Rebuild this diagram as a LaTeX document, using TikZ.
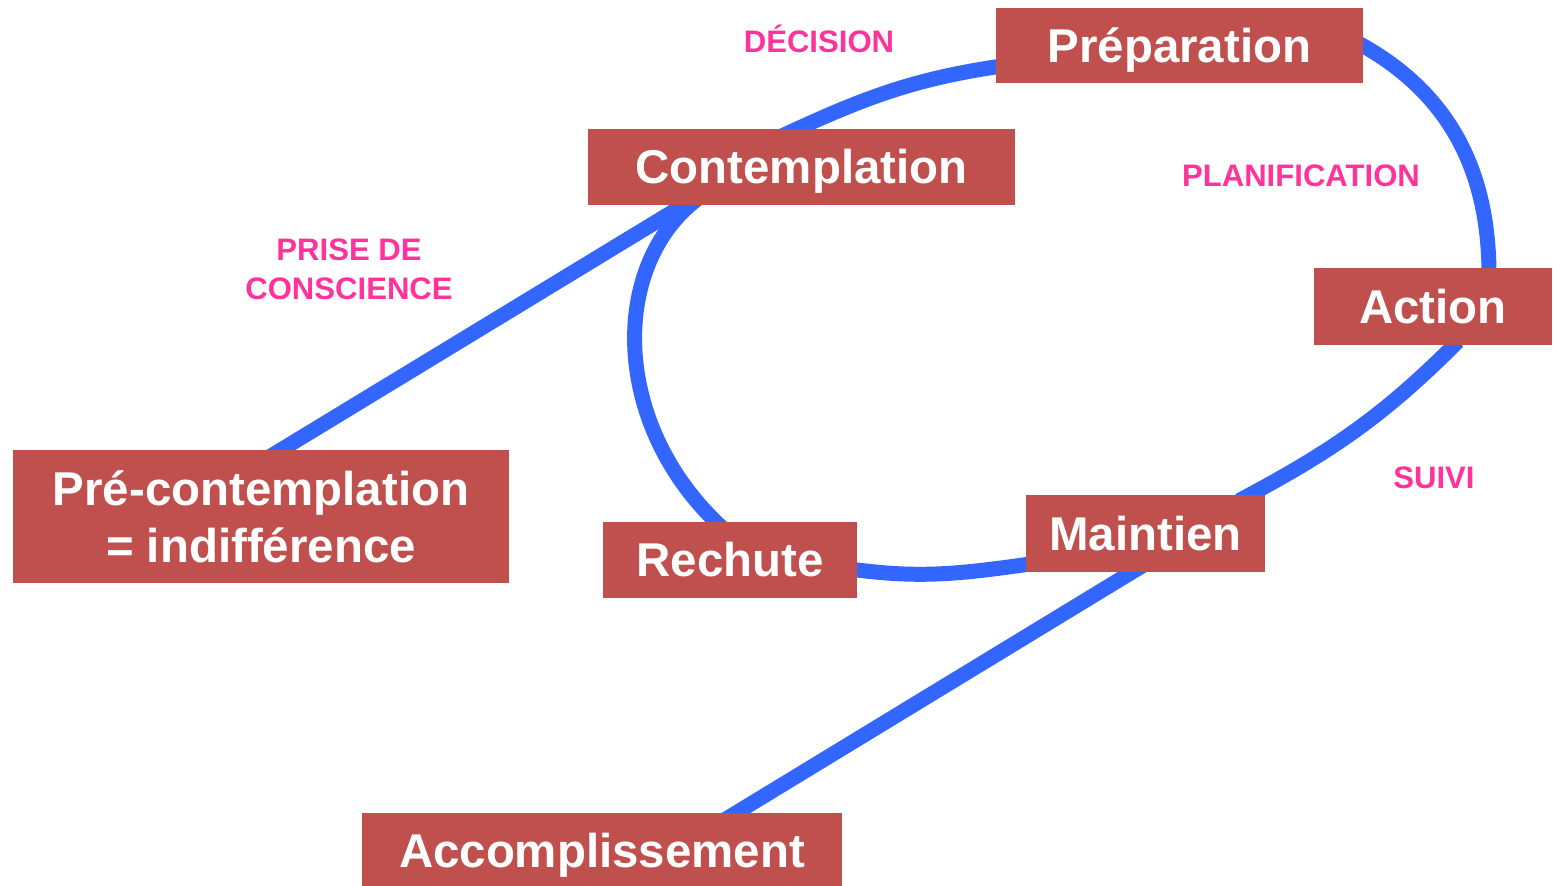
\documentclass[tikz,border=0pt]{standalone}
\usepackage{fontspec}
\setmainfont{Liberation Sans}
\usetikzlibrary{calc,backgrounds}

\definecolor{boxred}{HTML}{C0504D}
\definecolor{linkblue}{HTML}{3366FF}
\definecolor{labelpink}{HTML}{FF3399}

\tikzset{
  stage/.style={fill=boxred, text=white, inner sep=0pt, align=center,
    text height=24pt, text depth=4.7pt,
    font=\bfseries\fontsize{27}{32.3}\selectfont},
  twolines/.style={text height=, text depth=},
  transition/.style={text=labelpink, inner sep=0pt, align=center,
    font=\bfseries\fontsize{17.7}{22}\selectfont},
  link/.style={draw=linkblue, line width=0.3cm},
}

\begin{document}
\begin{tikzpicture}[x=0.02cm, y=-0.02cm]

\useasboundingbox (0,0) rectangle (1553,886) ;

\node [stage, minimum width=7.34cm, minimum height=1.5cm] (prep) at (1179.5,45.5) {Préparation} ;
\node [stage, minimum width=8.54cm, minimum height=1.52cm] (cont) at (801.5,167) {Contemplation} ;
\node [stage, minimum width=4.76cm, minimum height=1.54cm] (action) at (1433,306.5) {Action} ;
\node [stage, twolines, minimum width=9.92cm, minimum height=2.66cm] (precont) at (261,516.5) {Pré-contemplation\\= indifférence} ;
\node [stage, minimum width=5.08cm, minimum height=1.52cm] (rechute) at (730,560) {Rechute} ;
\node [stage, minimum width=4.78cm, minimum height=1.54cm] (maintien) at (1145.5,533.5) {Maintien} ;
\node [stage, minimum width=9.6cm, minimum height=1.52cm] (accomp) at (602,851) {Accomplissement} ;

\node [transition] (decision) at (819,39) {DÉCISION} ;
\node [transition] (planif) at (1301,176) {PLANIFICATION} ;
\node [transition] (prise) at (349,269.5) {PRISE DE\\CONSCIENCE} ;
\node [transition] (suivi) at (1434,478) {SUIVI} ;

\begin{scope}[on background layer]
\draw [link] ($(precont.north)+(5.6,9)$) -- ($(cont.south)+(-105,-8)$) ;
\draw [link] ($(cont.north)+(-21,8)$) [out=25, in=188] to ($(prep.west)+(10,20)$) ;
\draw [link] ($(prep.east)+(-8,-4)$) [out=-28, in=90] to ($(action.north)+(56,7)$) ;
\draw [link] ($(action.south)+(25,-4)$) [out=-135, in=28] to ($(maintien.north)+(93.5,6)$) ;
\draw [link] ($(maintien.west)+(8,30)$) [out=188, in=-8] to ($(rechute.east)+(-7,9)$) ;
\draw [link] ($(cont.south)+(-104.5,-6)$) .. controls +(-87,66) and +(-112,-103) .. ($(rechute.north)+(-8,6)$) ;
\draw [link] ($(maintien.south)+(-2.5,-7)$) -- ($(accomp.north)+(123,7)$) ;
\end{scope}

\end{tikzpicture}
\end{document}
